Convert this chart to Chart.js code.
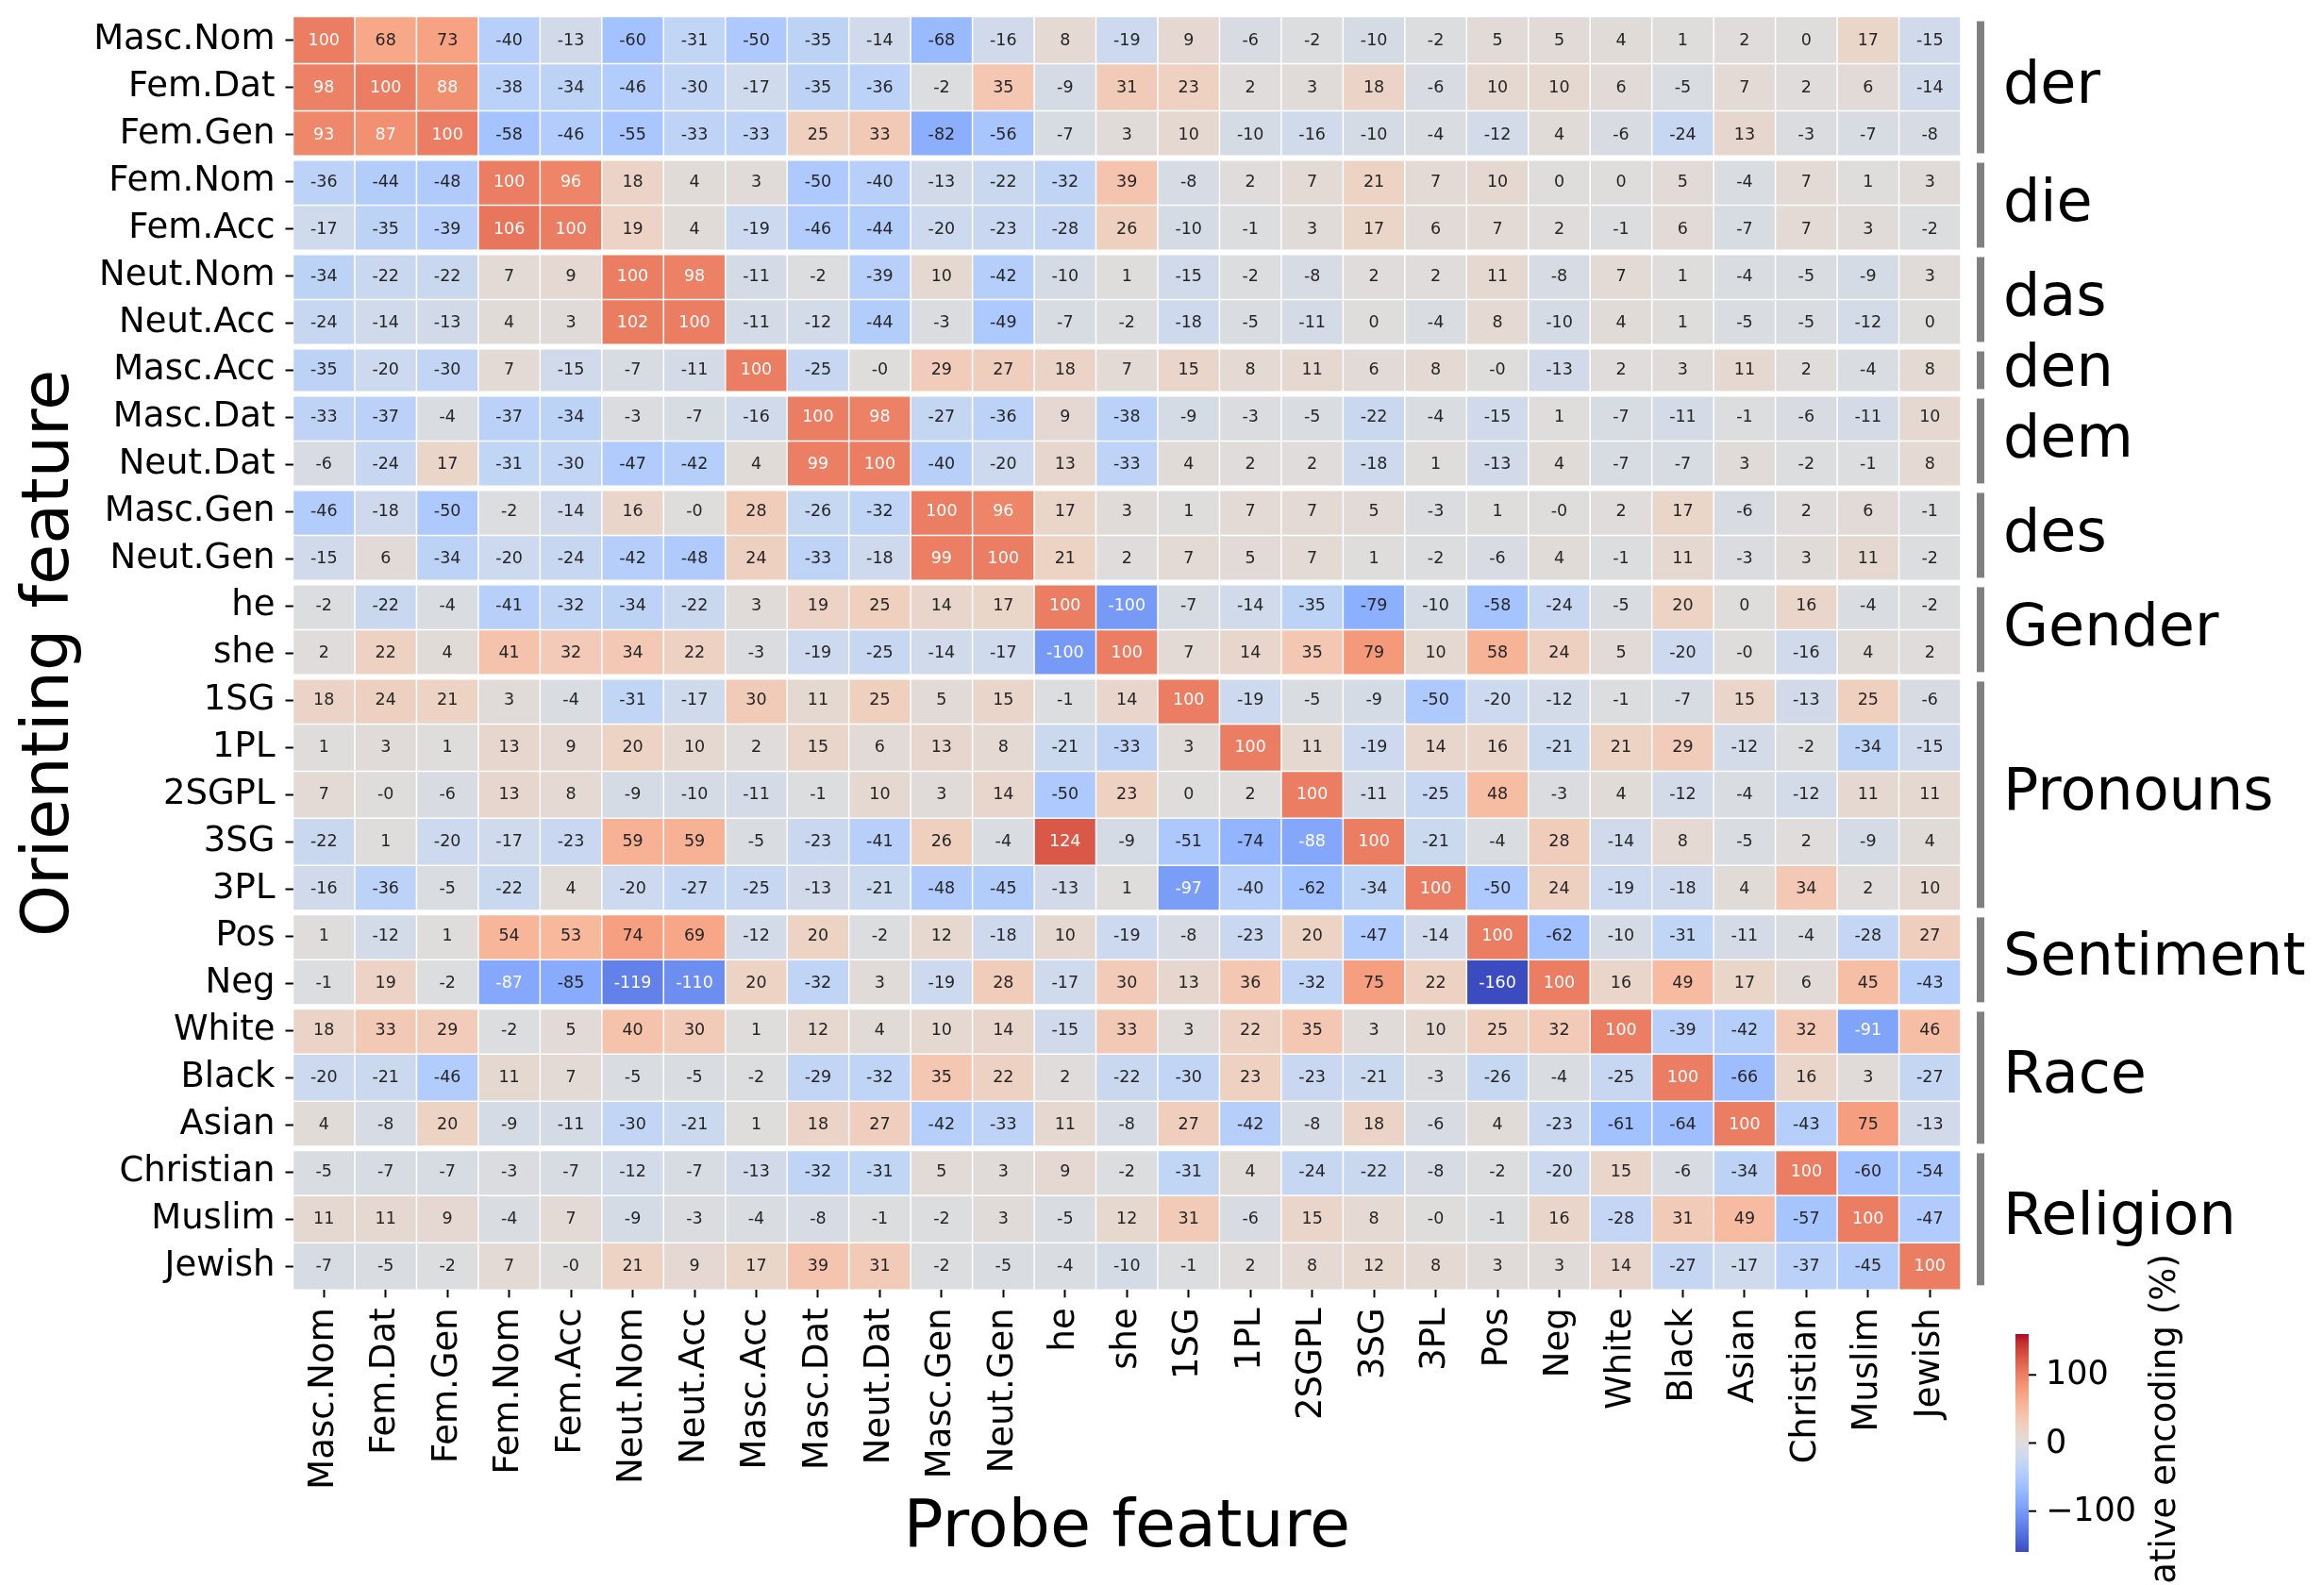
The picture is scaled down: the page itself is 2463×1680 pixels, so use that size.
<!DOCTYPE html>
<html>
<head>
<meta charset="utf-8">
<title>Orienting vs probe feature</title>
<script src="https://cdn.jsdelivr.net/npm/chart.js@4.4.1/dist/chart.umd.min.js"></script>
<style>
  html, body { margin: 0; padding: 0; background: #fff; }
  canvas { display: block; }
</style>
</head>
<body>
<canvas id="heat" width="2463" height="1680"></canvas>
<script>
// ---- data ----
const rowLabels = ["Masc.Nom", "Fem.Dat", "Fem.Gen", "Fem.Nom", "Fem.Acc", "Neut.Nom", "Neut.Acc",
  "Masc.Acc", "Masc.Dat", "Neut.Dat", "Masc.Gen", "Neut.Gen", "he", "she", "1SG", "1PL", "2SGPL",
  "3SG", "3PL", "Pos", "Neg", "White", "Black", "Asian", "Christian", "Muslim", "Jewish"];
const colLabels = rowLabels.slice();

const groupNames = ["der", "die", "das", "den", "dem", "des", "Gender", "Pronouns", "Sentiment", "Race", "Religion"];
const groupSizes = [3, 2, 2, 1, 2, 2, 2, 5, 2, 3, 3];

const cbarTicks = [-100, 0, 100];

// one row per orienting feature, one entry per probe feature (%)
const values = [
  [100, 68, 73, -40, -13, -60, -31, -50, -35, -14, -68, -16, 8, -19, 9, -6, -2, -10, -2, 5, 5, 4, 1, 2, 0, 17, -15],
  [98, 100, 88, -38, -34, -46, -30, -17, -35, -36, -2, 35, -9, 31, 23, 2, 3, 18, -6, 10, 10, 6, -5, 7, 2, 6, -14],
  [93, 87, 100, -58, -46, -55, -33, -33, 25, 33, -82, -56, -7, 3, 10, -10, -16, -10, -4, -12, 4, -6, -24, 13, -3, -7, -8],
  [-36, -44, -48, 100, 96, 18, 4, 3, -50, -40, -13, -22, -32, 39, -8, 2, 7, 21, 7, 10, 0, 0, 5, -4, 7, 1, 3],
  [-17, -35, -39, 106, 100, 19, 4, -19, -46, -44, -20, -23, -28, 26, -10, -1, 3, 17, 6, 7, 2, -1, 6, -7, 7, 3, -2],
  [-34, -22, -22, 7, 9, 100, 98, -11, -2, -39, 10, -42, -10, 1, -15, -2, -8, 2, 2, 11, -8, 7, 1, -4, -5, -9, 3],
  [-24, -14, -13, 4, 3, 102, 100, -11, -12, -44, -3, -49, -7, -2, -18, -5, -11, 0, -4, 8, -10, 4, 1, -5, -5, -12, 0],
  [-35, -20, -30, 7, -15, -7, -11, 100, -25, -0, 29, 27, 18, 7, 15, 8, 11, 6, 8, -0, -13, 2, 3, 11, 2, -4, 8],
  [-33, -37, -4, -37, -34, -3, -7, -16, 100, 98, -27, -36, 9, -38, -9, -3, -5, -22, -4, -15, 1, -7, -11, -1, -6, -11, 10],
  [-6, -24, 17, -31, -30, -47, -42, 4, 99, 100, -40, -20, 13, -33, 4, 2, 2, -18, 1, -13, 4, -7, -7, 3, -2, -1, 8],
  [-46, -18, -50, -2, -14, 16, -0, 28, -26, -32, 100, 96, 17, 3, 1, 7, 7, 5, -3, 1, -0, 2, 17, -6, 2, 6, -1],
  [-15, 6, -34, -20, -24, -42, -48, 24, -33, -18, 99, 100, 21, 2, 7, 5, 7, 1, -2, -6, 4, -1, 11, -3, 3, 11, -2],
  [-2, -22, -4, -41, -32, -34, -22, 3, 19, 25, 14, 17, 100, -100, -7, -14, -35, -79, -10, -58, -24, -5, 20, 0, 16, -4, -2],
  [2, 22, 4, 41, 32, 34, 22, -3, -19, -25, -14, -17, -100, 100, 7, 14, 35, 79, 10, 58, 24, 5, -20, -0, -16, 4, 2],
  [18, 24, 21, 3, -4, -31, -17, 30, 11, 25, 5, 15, -1, 14, 100, -19, -5, -9, -50, -20, -12, -1, -7, 15, -13, 25, -6],
  [1, 3, 1, 13, 9, 20, 10, 2, 15, 6, 13, 8, -21, -33, 3, 100, 11, -19, 14, 16, -21, 21, 29, -12, -2, -34, -15],
  [7, -0, -6, 13, 8, -9, -10, -11, -1, 10, 3, 14, -50, 23, 0, 2, 100, -11, -25, 48, -3, 4, -12, -4, -12, 11, 11],
  [-22, 1, -20, -17, -23, 59, 59, -5, -23, -41, 26, -4, 124, -9, -51, -74, -88, 100, -21, -4, 28, -14, 8, -5, 2, -9, 4],
  [-16, -36, -5, -22, 4, -20, -27, -25, -13, -21, -48, -45, -13, 1, -97, -40, -62, -34, 100, -50, 24, -19, -18, 4, 34, 2, 10],
  [1, -12, 1, 54, 53, 74, 69, -12, 20, -2, 12, -18, 10, -19, -8, -23, 20, -47, -14, 100, -62, -10, -31, -11, -4, -28, 27],
  [-1, 19, -2, -87, -85, -119, -110, 20, -32, 3, -19, 28, -17, 30, 13, 36, -32, 75, 22, -160, 100, 16, 49, 17, 6, 45, -43],
  [18, 33, 29, -2, 5, 40, 30, 1, 12, 4, 10, 14, -15, 33, 3, 22, 35, 3, 10, 25, 32, 100, -39, -42, 32, -91, 46],
  [-20, -21, -46, 11, 7, -5, -5, -2, -29, -32, 35, 22, 2, -22, -30, 23, -23, -21, -3, -26, -4, -25, 100, -66, 16, 3, -27],
  [4, -8, 20, -9, -11, -30, -21, 1, 18, 27, -42, -33, 11, -8, 27, -42, -8, 18, -6, 4, -23, -61, -64, 100, -43, 75, -13],
  [-5, -7, -7, -3, -7, -12, -7, -13, -32, -31, 5, 3, 9, -2, -31, 4, -24, -22, -8, -2, -20, 15, -6, -34, 100, -60, -54],
  [11, 11, 9, -4, 7, -9, -3, -4, -8, -1, -2, 3, -5, 12, 31, -6, 15, 8, -0, -1, 16, -28, 31, 49, -57, 100, -47],
  [-7, -5, -2, 7, -0, 21, 9, 17, 39, 31, -2, -5, -4, -10, -1, 2, 8, 12, 8, 3, 3, 14, -27, -17, -37, -45, 100]
];

// ---- colour map (matplotlib coolwarm) ----
const VMIN = -160, VMAX = 160;
const COOLWARM = [
  [59, 76, 192], [68, 90, 204], [77, 104, 215], [87, 117, 225], [98, 130, 234], [108, 142, 241],
  [119, 154, 247], [130, 165, 251], [141, 176, 254], [152, 185, 255], [163, 194, 255], [174, 201, 253],
  [184, 208, 249], [194, 213, 244], [204, 217, 238], [213, 219, 230], [221, 221, 221], [229, 216, 209],
  [236, 211, 197], [241, 204, 185], [245, 196, 173], [247, 187, 160], [247, 177, 148], [247, 166, 135],
  [244, 154, 123], [241, 141, 111], [236, 127, 99], [229, 112, 88], [222, 96, 77], [213, 80, 66],
  [203, 62, 56], [192, 40, 47], [180, 4, 38]
];

function cmapAt(t) {
  t = Math.max(0, Math.min(1, t));
  const pos = t * (COOLWARM.length - 1);
  const i = Math.min(COOLWARM.length - 2, Math.floor(pos));
  const f = pos - i;
  return COOLWARM[i].map((c, k) => c + (COOLWARM[i + 1][k] - c) * f);
}

function valueRgb(v) {
  // 256 entry lookup like matplotlib
  const t = (v - VMIN) / (VMAX - VMIN);
  const idx = Math.max(0, Math.min(255, Math.floor(t * 256)));
  return cmapAt(idx / 255);
}

const toCss = (rgb) => `rgb(${rgb.map(Math.round).join(",")})`;

function luminance(rgb) {
  const lin = rgb.map(c => {
    c = c / 255;
    return c <= 0.03928 ? c / 12.92 : Math.pow((c + 0.055) / 1.055, 2.4);
  });
  return 0.2126 * lin[0] + 0.7152 * lin[1] + 0.0722 * lin[2];
}

const fmt = (v) => (Object.is(v, -0) ? "-0" : String(v));

const FONT = '"DejaVu Sans", "Liberation Sans", sans-serif';

// one dataset per probe column, stacked to fill each row
const datasets = colLabels.map((c, j) => ({
  label: c,
  data: rowLabels.map(() => 1),
  backgroundColor: rowLabels.map((r, i) => toCss(valueRgb(values[i][j]))),
  borderColor: "#ffffff",
  borderWidth: 0.75,
  borderSkipped: false,
  inflateAmount: 0,
  barPercentage: 1,
  categoryPercentage: 1
}));

// white gaps between groups + cell numbers
const cellText = {
  id: "cellText",
  afterDatasetsDraw(chart) {
    const ctx = chart.ctx;
    const y = chart.scales.y;
    const area = chart.chartArea;
    ctx.save();

    ctx.strokeStyle = "#ffffff";
    ctx.lineWidth = 6;
    let row = 0;
    groupSizes.slice(0, -1).forEach(n => {
      row += n;
      const py = (y.getPixelForValue(row - 1) + y.getPixelForValue(row)) / 2;
      ctx.beginPath();
      ctx.moveTo(area.left, py);
      ctx.lineTo(area.right, py);
      ctx.stroke();
    });

    ctx.font = "17.5px " + FONT;
    ctx.textAlign = "center";
    ctx.textBaseline = "middle";
    chart.data.datasets.forEach((ds, j) => {
      chart.getDatasetMeta(j).data.forEach((bar, i) => {
        const v = values[i][j];
        const p = bar.getProps(["x", "y", "base"], true);
        ctx.fillStyle = luminance(valueRgb(v)) > 0.408 ? "#262626" : "#ffffff";
        ctx.fillText(fmt(v), (p.x + p.base) / 2, p.y + 0.5);
      });
    });
    ctx.restore();
  }
};

// group brackets on the right and the colour bar
const sideDecor = {
  id: "sideDecor",
  afterDraw(chart) {
    const ctx = chart.ctx;
    const y = chart.scales.y;
    const band = y.getPixelForValue(1) - y.getPixelForValue(0);
    ctx.save();

    let start = 0;
    groupSizes.forEach((n, g) => {
      const top = y.getPixelForValue(start) - band / 2 + band * 0.1;
      const bottom = y.getPixelForValue(start + n - 1) + band / 2 - band * 0.1;
      ctx.fillStyle = "#808080";
      ctx.fillRect(2095, top, 8, bottom - top);
      ctx.fillStyle = "#000000";
      ctx.font = "62px " + FONT;
      ctx.textAlign = "left";
      ctx.textBaseline = "middle";
      ctx.fillText(groupNames[g], 2123, (top + bottom) / 2);
      start += n;
    });

    // colour bar
    const cb = { x: 2136, w: 14, top: 1414, bottom: 1645 };
    const grad = ctx.createLinearGradient(0, cb.bottom, 0, cb.top);
    COOLWARM.forEach((c, k) => grad.addColorStop(k / (COOLWARM.length - 1), toCss(c)));
    ctx.fillStyle = grad;
    ctx.fillRect(cb.x, cb.top, cb.w, cb.bottom - cb.top);

    const mid = (cb.top + cb.bottom) / 2;
    const perUnit = (cb.bottom - cb.top) / (VMAX - VMIN);
    ctx.strokeStyle = "#000000";
    ctx.lineWidth = 2;
    ctx.fillStyle = "#000000";
    ctx.font = "35px " + FONT;
    ctx.textAlign = "left";
    ctx.textBaseline = "middle";
    cbarTicks.forEach(t => {
      const py = mid - t * perUnit;
      ctx.beginPath();
      ctx.moveTo(cb.x + cb.w, py);
      ctx.lineTo(cb.x + cb.w + 8, py);
      ctx.stroke();
      ctx.fillText(t < 0 ? "\u2212" + Math.abs(t) : String(t), cb.x + cb.w + 18, py + 1);
    });

    ctx.translate(2295, mid + 3);
    ctx.rotate(-Math.PI / 2);
    ctx.font = "37px " + FONT;
    ctx.textAlign = "center";
    ctx.fillText("Relative encoding (%)", 0, 0);
    ctx.restore();
  }
};

new Chart(document.getElementById("heat"), {
  type: "bar",
  data: { labels: rowLabels, datasets },
  plugins: [cellText, sideDecor],
  options: {
    indexAxis: "y",
    responsive: false,
    animation: false,
    devicePixelRatio: 1,
    layout: { padding: { top: 17.5, right: 385, bottom: 0, left: 0 } },
    plugins: { legend: { display: false }, tooltip: { enabled: false } },
    scales: {
      x: {
        type: "linear",
        stacked: true,
        min: 0,
        max: colLabels.length,
        afterBuildTicks: (scale) => {
          scale.ticks = colLabels.map((c, i) => ({ value: i + 0.5 }));
        },
        afterFit: (scale) => {
          scale.height = 312.7;
          scale.paddingLeft = 0;
          scale.paddingRight = 0;
        },
        ticks: {
          autoSkip: false,
          minRotation: 90,
          maxRotation: 90,
          padding: 11,
          color: "#000",
          font: { family: FONT, size: 37 },
          callback: (v, i) => colLabels[i]
        },
        grid: { drawOnChartArea: false, drawTicks: true, tickLength: 8, tickWidth: 2, tickColor: "#000" },
        border: { display: false },
        title: {
          display: true,
          text: "Probe feature",
          color: "#000",
          font: { family: FONT, size: 70 },
          padding: { top: 0, bottom: 17 }
        }
      },
      y: {
        type: "category",
        stacked: true,
        afterFit: (scale) => {
          scale.width = 310.5;
          scale.paddingTop = 0;
          scale.paddingBottom = 0;
        },
        ticks: {
          autoSkip: false,
          padding: 11,
          color: "#000",
          font: { family: FONT, size: 37 }
        },
        grid: { drawOnChartArea: false, drawTicks: true, tickLength: 8, tickWidth: 2, tickColor: "#000", offset: false },
        border: { display: false },
        title: {
          display: true,
          text: "Orienting feature",
          color: "#000",
          font: { family: FONT, size: 70 },
          padding: { top: 12, bottom: 0 }
        }
      }
    }
  }
});
</script>
</body>
</html>
